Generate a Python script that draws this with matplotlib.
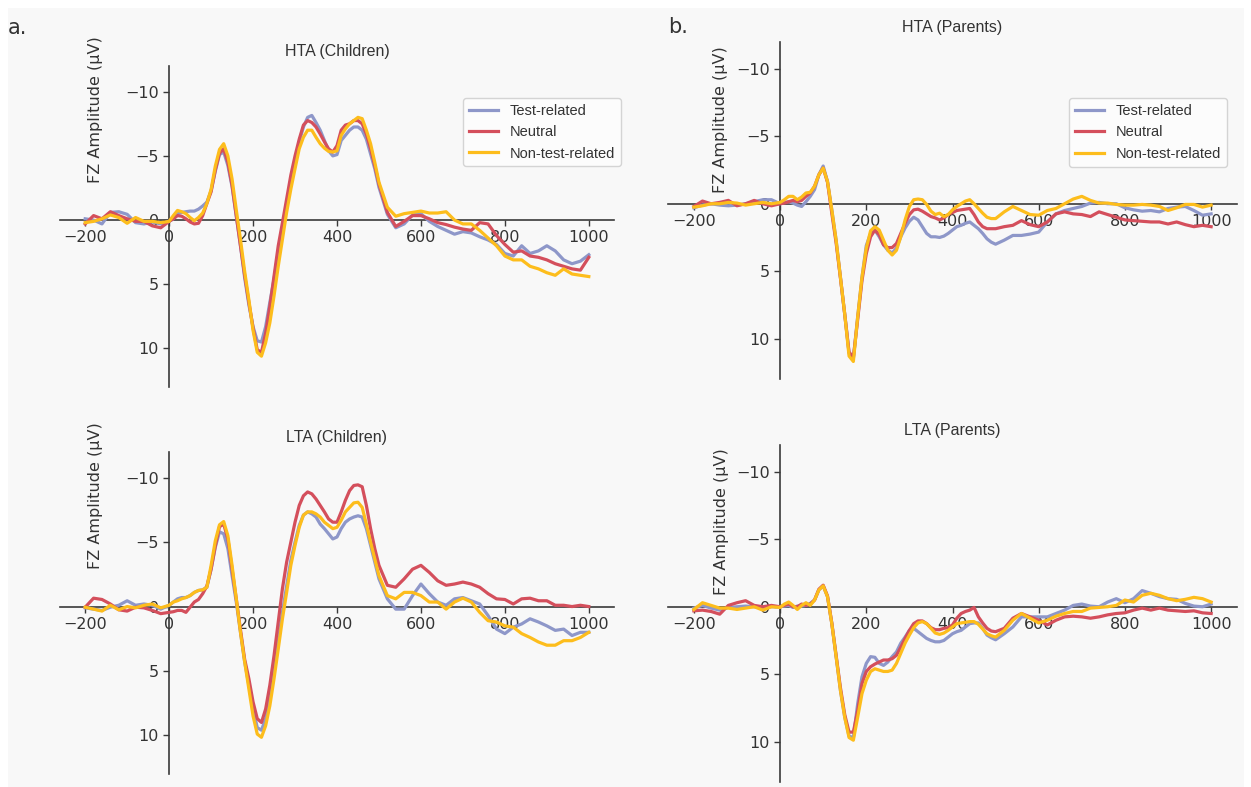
import numpy as np
import matplotlib
matplotlib.use("Agg")
import matplotlib.pyplot as plt
from matplotlib.patches import Rectangle

# time axis (ms): 20 ms steps in baseline/late window, 10 ms steps 0-500
times = list(range(-200, 0, 20)) + list(range(0, 501, 10)) + list(range(520, 1001, 20))

conditions = ["Test-related", "Neutral", "Non-test-related"]
colors = ["#8e97c9", "#d44f5c", "#fdbd1c"]

# ---- HTA (Children) ----
hta_child_test = [
    -0.1, 0.0, 0.3, -0.6, -0.65, -0.45, 0.2, 0.3, 0.15, 0.3,
    0.1, -0.1, -0.5, -0.6, -0.65, -0.7, -0.7, -0.85, -1.1, -1.4,
    -2.3, -3.8, -5.1, -5.3, -4.25, -2.6, -0.3, 2.0, 4.5, 6.6,
    8.3, 9.4, 9.5, 8.3, 6.4, 4.6, 2.5, 0.7, -1.1, -2.9,
    -4.5, -6.1, -7.25, -8.0, -8.15, -7.6, -7.0, -6.2, -5.4, -5.0,
    -5.1, -6.2, -6.6, -7.0, -7.25, -7.25, -7.0, -6.3, -5.15, -4.0,
    -2.55,
    -0.45, 0.6, 0.3, -0.4, -0.5, 0.1, 0.5, 0.8, 1.1, 0.9, 1.0, 1.3, 1.55,
    1.9, 2.6, 2.8, 2.0, 2.6, 2.4, 2.0, 2.4, 3.1, 3.4, 3.2, 2.7]
hta_child_neutral = [
    0.3, -0.35, -0.1, -0.65, -0.35, -0.1, 0.1, 0.1, 0.45, 0.6,
    0.1, -0.1, -0.35, -0.3, -0.1, 0.15, 0.3, 0.25, -0.35, -1.3,
    -2.2, -3.9, -5.2, -5.55, -4.5, -2.7, -0.35, 2.0, 4.3, 6.4,
    8.4, 10.1, 10.3, 8.8, 6.7, 4.35, 2.0, 0.2, -1.65, -3.5,
    -5.0, -6.3, -7.4, -7.75, -7.6, -7.25, -6.7, -6.1, -5.55, -5.3,
    -5.8, -7.0, -7.4, -7.5, -7.75, -7.75, -7.5, -6.7, -5.55, -4.25,
    -2.8,
    -0.6, 0.5, 0.1, -0.35, -0.35, -0.1, 0.2, 0.35, 0.55, 0.7, 0.8, 0.2, 0.3,
    1.2, 1.9, 2.5, 2.4, 2.8, 2.9, 3.1, 3.4, 3.6, 3.8, 3.9, 2.9]
hta_child_nontest = [
    0.2, 0.1, -0.1, -0.4, -0.2, 0.25, -0.2, 0.1, 0.1, 0.2,
    0.1, -0.35, -0.75, -0.65, -0.5, -0.2, 0.05, -0.2, -0.55, -1.3,
    -2.4, -4.2, -5.5, -5.95, -5.0, -3.2, -0.8, 1.5, 4.0, 6.2,
    8.6, 10.3, 10.6, 9.55, 8.0, 5.9, 3.6, 1.5, -0.6, -2.4,
    -4.0, -5.55, -6.45, -7.0, -7.0, -6.45, -5.95, -5.6, -5.35, -5.3,
    -5.4, -6.6, -7.1, -7.5, -7.75, -8.0, -7.9, -7.0, -5.95, -4.5,
    -2.95,
    -1.0, -0.3, -0.5, -0.6, -0.7, -0.55, -0.55, -0.65, 0.0, 0.3, 0.3, 0.8, 1.4,
    2.0, 2.8, 3.1, 3.1, 3.6, 3.8, 4.1, 4.3, 3.8, 4.2, 4.3, 4.4]

# ---- HTA (Parents) ----
hta_par_test = [
    0.3, 0.1, 0.0, 0.1, 0.15, 0.1, 0.0, -0.15, -0.3, -0.3,
    0.0, -0.1, -0.15, -0.05, 0.1, 0.2, -0.15, -0.55, -1.05, -2.15,
    -2.8, -1.65, 0.45, 2.7, 5.45, 8.2, 11.1, 11.5, 8.4, 5.45,
    3.1, 2.2, 1.95, 2.45, 3.05, 3.45, 3.65, 3.3, 2.45, 1.8,
    1.3, 1.0, 1.2, 1.7, 2.2, 2.45, 2.45, 2.5, 2.4, 2.2,
    1.95, 1.7, 1.6, 1.45, 1.35, 1.6, 1.85, 2.2, 2.6, 2.85,
    3.0,
    2.7, 2.35, 2.35, 2.25, 2.1, 1.35, 0.75, 0.5, 0.35, 0.2, -0.05, -0.1, 0.0,
    0.0, 0.3, 0.45, 0.55, 0.5, 0.6, 0.35, 0.25, 0.2, 0.5, 0.85, 0.75]
hta_par_neutral = [
    0.2, -0.2, 0.0, -0.1, -0.25, 0.15, 0.0, -0.25, 0.0, 0.15,
    0.0, -0.05, -0.15, -0.25, -0.15, -0.25, -0.55, -0.8, -1.3, -2.15,
    -2.65, -1.6, 0.7, 2.9, 5.5, 8.2, 11.0, 11.4, 8.6, 5.7,
    3.7, 2.45, 1.95, 2.3, 3.05, 3.25, 3.25, 2.95, 2.2, 1.45,
    0.8, 0.45, 0.4, 0.55, 0.75, 0.95, 1.05, 1.2, 1.05, 0.8,
    0.65, 0.5, 0.45, 0.4, 0.35, 0.8, 1.35, 1.7, 1.85, 1.85,
    1.85,
    1.7, 1.6, 1.25, 1.55, 1.7, 1.35, 0.75, 0.6, 0.75, 0.8, 0.95, 0.6, 0.8,
    1.0, 1.2, 1.25, 1.3, 1.35, 1.35, 1.5, 1.35, 1.55, 1.7, 1.6, 1.7]
hta_par_nontest = [
    0.25, 0.15, 0.0, 0.0, -0.1, -0.05, 0.1, 0.0, -0.1, 0.0,
    -0.1, -0.3, -0.55, -0.55, -0.3, -0.5, -0.8, -0.85, -1.3, -2.15,
    -2.65, -1.65, 0.45, 2.7, 5.45, 8.2, 11.3, 11.7, 8.4, 5.45,
    3.3, 2.0, 1.7, 1.95, 2.7, 3.45, 3.8, 3.45, 2.45, 1.2,
    0.2, -0.3, -0.35, -0.3, 0.05, 0.55, 0.8, 0.7, 0.95, 0.8,
    0.45, 0.2, 0.0, -0.2, -0.3, 0.0, 0.35, 0.7, 1.0, 1.1,
    1.1,
    0.6, 0.2, 0.5, 0.8, 0.85, 0.5, 0.35, 0.0, -0.35, -0.55, -0.25, -0.05, -0.05,
    0.05, 0.1, 0.1, 0.05, 0.1, 0.2, 0.5, 0.3, 0.05, 0.05, 0.25, 0.1]

# ---- LTA (Children) ----
lta_child_test = [
    0.1, 0.2, 0.3, 0.05, -0.1, -0.45, -0.1, -0.2, -0.1, 0.2,
    -0.1, -0.35, -0.6, -0.7, -0.7, -0.85, -1.1, -1.25, -1.3, -1.5,
    -2.9, -4.6, -5.8, -5.65, -4.5, -2.4, -0.35, 2.0, 4.3, 6.1,
    7.95, 9.4, 9.6, 8.7, 7.2, 5.1, 2.8, 0.45, -1.6, -3.6,
    -5.0, -6.3, -7.1, -7.35, -7.2, -6.95, -6.4, -6.05, -5.65, -5.25,
    -5.4, -6.05, -6.55, -6.8, -6.95, -7.05, -6.95, -6.05, -4.75, -3.45,
    -2.15,
    -0.6, 0.2, 0.2, -0.85, -1.75, -1.0, -0.35, -0.1, -0.6, -0.7, -0.45, -0.2, 0.7,
    1.75, 2.1, 1.6, 1.35, 0.95, 1.2, 1.5, 1.85, 1.75, 2.25, 2.0, 2.0]
lta_child_neutral = [
    0.05, -0.65, -0.55, -0.2, 0.25, 0.35, 0.05, 0.1, 0.3, 0.55,
    0.45, 0.4, 0.3, 0.3, 0.45, 0.05, -0.35, -0.55, -1.0, -1.6,
    -2.9, -4.7, -6.2, -6.4, -5.25, -2.9, -0.6, 1.8, 4.1, 5.6,
    7.4, 8.7, 9.0, 7.95, 6.1, 3.8, 1.2, -1.4, -3.45, -5.0,
    -6.55, -7.85, -8.6, -8.9, -8.75, -8.35, -7.85, -7.35, -6.8, -6.55,
    -6.55, -7.35, -8.25, -9.0, -9.4, -9.45, -9.3, -7.85, -6.05, -4.5,
    -3.2,
    -1.65, -1.5, -2.15, -2.9, -3.2, -2.65, -2.0, -1.65, -1.75, -1.9, -1.75, -1.5, -1.0,
    -0.6, -0.55, -0.2, -0.6, -0.65, -0.45, -0.45, -0.1, -0.1, 0.0, -0.1, 0.0]
lta_child_nontest = [
    0.05, 0.2, 0.35, -0.1, 0.25, 0.0, 0.1, -0.1, -0.2, 0.1,
    -0.1, -0.35, -0.45, -0.6, -0.7, -0.85, -1.1, -1.25, -1.3, -1.5,
    -3.2, -5.1, -6.35, -6.6, -5.5, -3.2, -0.6, 2.0, 4.3, 6.4,
    8.5, 9.9, 10.15, 9.25, 7.7, 5.6, 3.3, 0.95, -1.1, -3.2,
    -4.75, -6.15, -7.1, -7.35, -7.35, -7.2, -6.95, -6.55, -6.3, -6.05,
    -6.15, -6.7, -7.35, -7.7, -8.05, -8.1, -7.7, -6.4, -5.0, -3.7,
    -2.4,
    -0.85, -0.6, -1.1, -1.1, -0.85, -0.35, -0.35, 0.2, -0.35, -0.65, -0.35, 0.45, 1.1,
    1.2, 1.5, 1.6, 2.1, 2.4, 2.75, 3.0, 3.0, 2.65, 2.65, 2.4, 2.0]

# ---- LTA (Parents) ----
lta_par_test = [
    0.1, -0.1, 0.1, 0.25, 0.05, 0.0, -0.05, 0.0, 0.1, 0.0,
    0.0, -0.05, -0.1, 0.05, -0.05, -0.05, -0.1, -0.25, -0.5, -1.25,
    -1.55, -0.75, 1.25, 3.7, 6.2, 8.2, 9.6, 9.7, 7.2, 5.2,
    4.2, 3.7, 3.75, 4.2, 4.35, 4.1, 3.7, 3.35, 2.7, 2.25,
    1.75, 1.6, 1.85, 2.1, 2.35, 2.5, 2.6, 2.6, 2.5, 2.25,
    2.0, 1.85, 1.75, 1.5, 1.25, 1.2, 1.2, 1.6, 2.1, 2.3,
    2.45,
    2.0, 1.5, 0.75, 0.75, 0.75, 0.75, 0.5, 0.25, -0.1, -0.2, -0.05, 0.0, -0.35,
    -0.6, -0.3, -0.6, -1.2, -1.0, -0.75, -0.6, -0.55, -0.25, -0.05, 0.0, -0.2]
lta_par_neutral = [
    0.3, 0.25, 0.35, 0.55, -0.1, -0.3, -0.45, -0.1, 0.0, -0.1,
    0.0, -0.1, -0.2, 0.0, 0.0, -0.2, -0.1, -0.2, -0.5, -1.3,
    -1.6, -0.8, 1.2, 3.6, 6.0, 8.0, 9.3, 9.3, 7.7, 5.7,
    4.8, 4.45, 4.25, 4.1, 3.95, 3.95, 3.85, 3.6, 3.0, 2.35,
    1.75, 1.25, 1.05, 1.05, 1.25, 1.55, 1.7, 1.7, 1.6, 1.55,
    1.35, 0.85, 0.5, 0.35, 0.25, 0.05, 0.75, 1.2, 1.6, 1.8,
    1.85,
    1.6, 0.85, 0.5, 0.75, 1.0, 1.35, 1.0, 0.75, 0.7, 0.75, 0.85, 0.75, 0.6,
    0.5, 0.45, 0.25, 0.1, 0.25, 0.1, 0.25, 0.3, 0.35, 0.3, 0.45, 0.5]
lta_par_nontest = [
    0.2, -0.3, -0.1, 0.1, 0.1, 0.2, 0.1, 0.0, 0.25, 0.0,
    0.05, -0.2, -0.35, -0.1, 0.2, -0.1, -0.3, -0.1, -0.5, -1.25,
    -1.55, -0.75, 1.25, 3.7, 6.2, 8.2, 9.7, 9.9, 8.2, 6.45,
    5.45, 4.8, 4.6, 4.7, 4.8, 4.8, 4.7, 4.2, 3.45, 2.7,
    2.1, 1.55, 1.2, 1.1, 1.25, 1.6, 1.95, 2.05, 1.95, 1.75,
    1.5, 1.25, 1.2, 1.15, 1.1, 1.1, 1.3, 1.65, 2.0, 2.15,
    2.25,
    1.75, 1.0, 0.5, 0.85, 1.2, 1.0, 0.7, 0.5, 0.35, 0.35, 0.1, 0.05, 0.0,
    -0.1, -0.5, -0.35, -0.85, -1.0, -0.85, -0.6, -0.45, -0.55, -0.7, -0.6, -0.35]

W, H = 1251, 787
fig = plt.figure(figsize=(W / 100, H / 100), dpi=100)
fig.patch.set_facecolor("white")
fig.patches.append(Rectangle((8 / W, 0), 1236 / W, 779 / H, transform=fig.transFigure,
                             facecolor="#f8f8f8", edgecolor="none", zorder=-10))


def px_rect(left, top, right, bottom):
    return [left / W, 1 - bottom / H, (right - left) / W, (bottom - top) / H]


panels = [
    ("HTA (Children)", px_rect(60, 66, 614, 387), [hta_child_test, hta_child_neutral, hta_child_nontest],
     (0.078, 0.863), (1.013, 0.900)),
    ("HTA (Parents)", px_rect(668, 42, 1237, 379), [hta_par_test, hta_par_neutral, hta_par_nontest],
     (0.105, 0.771), (0.982, 0.833)),
    ("LTA (Children)", px_rect(60, 452, 614, 774), [lta_child_test, lta_child_neutral, lta_child_nontest],
     (0.078, 0.866), None),
    ("LTA (Parents)", px_rect(668, 445, 1237, 782), [lta_par_test, lta_par_neutral, lta_par_nontest],
     (0.107, 0.772), None),
]

for title, rect, series, lab_pos, leg_pos in panels:
    ax = fig.add_axes(rect)
    ax.set_facecolor("none")
    for vals, name, col in zip(series, conditions, colors):
        ax.plot(times, vals, color=col, lw=2.3, label=name, zorder=3,
                solid_joinstyle="round")
    ax.set_xlim(-260, 1060)
    ax.set_ylim(13, -12)
    ax.set_xticks(range(-200, 1001, 200))
    ax.set_yticks([-10, -5, 0, 5, 10])
    for s in ("top", "right"):
        ax.spines[s].set_visible(False)
    ax.spines["left"].set_position(("data", 0))
    ax.spines["bottom"].set_position(("data", 0))
    for s in ("left", "bottom"):
        ax.spines[s].set_color("#3a3a3a")
        ax.spines[s].set_linewidth(1.2)
    ax.tick_params(colors="#3a3a3a", labelcolor="#333333", labelsize=11.5, length=4, width=1.0)
    ax.set_title(title, fontsize=11.5, family="Liberation Sans", color="#333333", pad=7)
    ax.set_ylabel("FZ Amplitude (µV)", fontsize=11.5, color="#333333")
    ax.yaxis.set_label_coords(*lab_pos)
    if leg_pos is not None:
        leg = ax.legend(loc="upper right", bbox_to_anchor=leg_pos, borderaxespad=0,
                        prop={"family": "Liberation Sans", "size": 10.5},
                        frameon=True, fancybox=True, framealpha=1)
        leg.get_frame().set_edgecolor("#d4d4d4")
        leg.get_frame().set_facecolor("#fcfcfc")
        for t in leg.get_texts():
            t.set_color("#333333")

fig.text(8 / W, 1 - 34 / H, "a.", fontsize=15, color="#333333", va="baseline")
fig.text(668 / W, 1 - 33 / H, "b.", fontsize=15, color="#333333", va="baseline")

fig.savefig("out.png", dpi=100, facecolor=fig.get_facecolor())
